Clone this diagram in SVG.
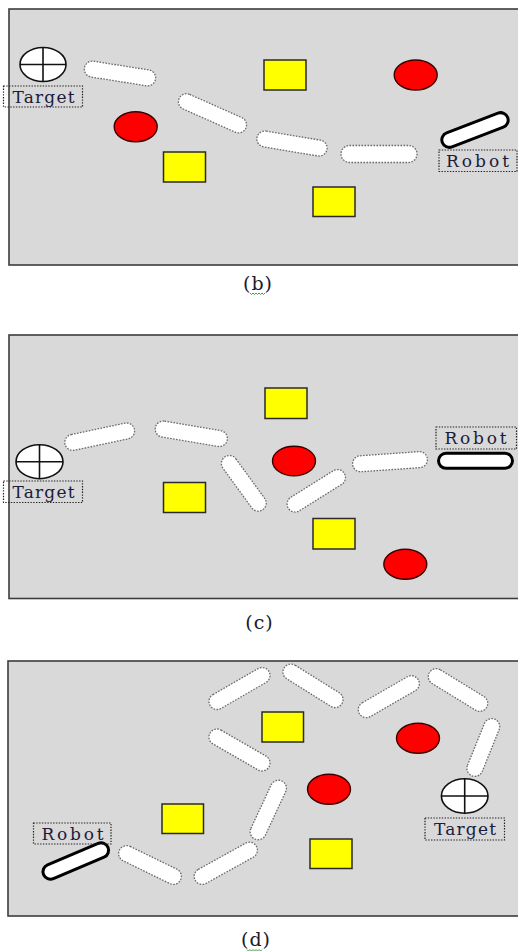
<svg xmlns="http://www.w3.org/2000/svg" width="518" height="952" viewBox="0 0 518 952">
  <style>
    .frame { fill: #d9d9d9; stroke: #3c3c3c; stroke-width: 1.6; }
    .wall { fill: #ffffff; stroke: #6a6a6a; stroke-width: 1.3; stroke-dasharray: 1.6 1.4; }
    .robot { fill: #ffffff; stroke: #000000; stroke-width: 3; }
    .block { fill: #ffff00; stroke: #2a2a2a; stroke-width: 1.5; }
    .ball { fill: #ff0000; stroke: #3a0000; stroke-width: 1.4; }
    .goal { fill: #ffffff; stroke: #111111; stroke-width: 1.6; }
    .cross { stroke: #111111; stroke-width: 1.6; }
    .tag { fill: none; stroke: #222222; stroke-width: 1.2; stroke-dasharray: 1.4 1.4; }
    .label { font-family: "DejaVu Serif", "Liberation Serif", serif; font-size: 17px; fill: #1c1c3c; }
    .caption { font-family: "DejaVu Serif", "Liberation Serif", serif; font-size: 19px; fill: #1a1a2a; text-anchor: middle; letter-spacing: 1px; }
    .squiggle { fill: none; stroke: #3aa63a; stroke-width: 1; }
  </style>

  <!-- ===== Scene (b) ===== -->
  <g id="scene-b">
    <rect class="frame" x="9" y="9" width="515" height="256"/>
    <g id="b-target">
      <ellipse class="goal" cx="43" cy="64.5" rx="23" ry="17"/>
      <line class="cross" x1="43" y1="47.5" x2="43" y2="81.5"/>
      <line class="cross" x1="20" y1="64.5" x2="66" y2="64.5"/>
      <rect class="tag" x="3.5" y="86" width="79" height="21"/>
      <text class="label" x="12.5" y="102.5" textLength="62" lengthAdjust="spacing">Target</text>
    </g>
    <g id="b-wall-1"><rect class="wall" x="-36" y="-8" width="72" height="16" rx="8" transform="translate(120 73.5) rotate(9)"/></g>
    <g id="b-wall-2"><rect class="wall" x="-36.5" y="-8" width="73" height="16" rx="8" transform="translate(212.5 113.3) rotate(24)"/></g>
    <g id="b-wall-3"><rect class="wall" x="-35.5" y="-8" width="71" height="16" rx="8" transform="translate(292 143.5) rotate(9.5)"/></g>
    <g id="b-wall-4"><rect class="wall" x="-38" y="-8.5" width="76" height="17" rx="8.5" transform="translate(379 154)"/></g>
    <g id="b-ball-1"><ellipse class="ball" cx="135.7" cy="126.7" rx="21.5" ry="15"/></g>
    <g id="b-ball-2"><ellipse class="ball" cx="415.7" cy="75" rx="21.5" ry="15"/></g>
    <g id="b-block-1"><rect class="block" x="163.5" y="152" width="42" height="30"/></g>
    <g id="b-block-2"><rect class="block" x="264" y="60" width="42" height="30"/></g>
    <g id="b-block-3"><rect class="block" x="313" y="187" width="42" height="29.5"/></g>
    <g id="b-robot">
      <rect class="robot" x="-35" y="-7.5" width="70" height="15" rx="7.5" transform="translate(475 130) rotate(-21)"/>
      <rect class="tag" x="439" y="150" width="78" height="21.5"/>
      <text class="label" x="446" y="166.5" textLength="63" lengthAdjust="spacing">Robot</text>
    </g>
    <text class="caption" x="258" y="289.5">(b)</text>
    <path class="squiggle" d="M250 293 l1.5 1.5 l1.5 -1.5 l1.5 1.5 l1.5 -1.5 l1.5 1.5 l1.5 -1.5 l1.5 1.5 l1.5 -1.5 l1.5 1.5 l1.5 -1.5"/>
  </g>

  <!-- ===== Scene (c) ===== -->
  <g id="scene-c">
    <rect class="frame" x="9" y="335" width="515" height="263.5"/>
    <g id="c-target">
      <ellipse class="goal" cx="39.5" cy="461.7" rx="23.5" ry="17"/>
      <line class="cross" x1="39.5" y1="444.7" x2="39.5" y2="478.7"/>
      <line class="cross" x1="16" y1="461.7" x2="63" y2="461.7"/>
      <rect class="tag" x="3.5" y="481" width="79" height="21.5"/>
      <text class="label" x="12.5" y="497.8" textLength="62" lengthAdjust="spacing">Target</text>
    </g>
    <g id="c-wall-1"><rect class="wall" x="-35.5" y="-8" width="71" height="16" rx="8" transform="translate(99.7 436.7) rotate(-12)"/></g>
    <g id="c-wall-2"><rect class="wall" x="-36.5" y="-8" width="73" height="16" rx="8" transform="translate(191.3 433.8) rotate(9.5)"/></g>
    <g id="c-wall-3"><rect class="wall" x="-32.5" y="-8" width="65" height="16" rx="8" transform="translate(243.8 483.3) rotate(54)"/></g>
    <g id="c-wall-4"><rect class="wall" x="-33" y="-8" width="66" height="16" rx="8" transform="translate(316.3 490.8) rotate(-32)"/></g>
    <g id="c-wall-5"><rect class="wall" x="-37.5" y="-8" width="75" height="16" rx="8" transform="translate(390 461.7) rotate(-4)"/></g>
    <g id="c-ball-1"><ellipse class="ball" cx="294" cy="461" rx="21.5" ry="14.8"/></g>
    <g id="c-ball-2"><ellipse class="ball" cx="405.3" cy="564.3" rx="21.5" ry="15"/></g>
    <g id="c-block-1"><rect class="block" x="163.5" y="482.5" width="42" height="30"/></g>
    <g id="c-block-2"><rect class="block" x="265" y="388" width="42" height="30.5"/></g>
    <g id="c-block-3"><rect class="block" x="313" y="518.5" width="42" height="30.5"/></g>
    <g id="c-robot">
      <rect class="robot" x="-37" y="-7.5" width="74" height="15" rx="7.5" transform="translate(475.5 460.8)"/>
      <rect class="tag" x="436" y="427" width="80.5" height="22"/>
      <text class="label" x="444.5" y="444.3" textLength="62" lengthAdjust="spacing">Robot</text>
    </g>
    <text class="caption" x="259.5" y="628.5">(c)</text>
  </g>

  <!-- ===== Scene (d) ===== -->
  <g id="scene-d">
    <rect class="frame" x="8" y="661" width="516" height="255"/>
    <g id="d-wall-1"><rect class="wall" x="-34" y="-8" width="68" height="16" rx="8" transform="translate(239.5 688.5) rotate(-30)"/></g>
    <g id="d-wall-2"><rect class="wall" x="-34" y="-8" width="68" height="16" rx="8" transform="translate(239.5 750) rotate(30)"/></g>
    <g id="d-wall-3"><rect class="wall" x="-34" y="-8" width="68" height="16" rx="8" transform="translate(150 865) rotate(26)"/></g>
    <g id="d-wall-4"><rect class="wall" x="-35" y="-8" width="70" height="16" rx="8" transform="translate(225.8 863.3) rotate(-29)"/></g>
    <g id="d-wall-5"><rect class="wall" x="-32" y="-8" width="64" height="16" rx="8" transform="translate(268.3 810) rotate(-65)"/></g>
    <g id="d-wall-6"><rect class="wall" x="-34" y="-8" width="68" height="16" rx="8" transform="translate(313 685.8) rotate(32)"/></g>
    <g id="d-wall-7"><rect class="wall" x="-34" y="-8" width="68" height="16" rx="8" transform="translate(388.8 696.7) rotate(-30)"/></g>
    <g id="d-wall-8"><rect class="wall" x="-33.5" y="-8" width="67" height="16" rx="8" transform="translate(458 690) rotate(31.5)"/></g>
    <g id="d-wall-9"><rect class="wall" x="-30.5" y="-8" width="61" height="16" rx="8" transform="translate(483.3 747.5) rotate(-68)"/></g>
    <g id="d-ball-1"><ellipse class="ball" cx="418" cy="738.3" rx="21.5" ry="15"/></g>
    <g id="d-ball-2"><ellipse class="ball" cx="329" cy="789.3" rx="21.5" ry="15"/></g>
    <g id="d-block-1"><rect class="block" x="162" y="804" width="41.5" height="29.5"/></g>
    <g id="d-block-2"><rect class="block" x="262" y="712" width="41.5" height="30"/></g>
    <g id="d-block-3"><rect class="block" x="310" y="839" width="42" height="29.5"/></g>
    <g id="d-target">
      <ellipse class="goal" cx="464.7" cy="796" rx="23.3" ry="17.2"/>
      <line class="cross" x1="464.7" y1="778.8" x2="464.7" y2="813.2"/>
      <line class="cross" x1="441.4" y1="796" x2="488" y2="796"/>
      <rect class="tag" x="425" y="818" width="79.5" height="22"/>
      <text class="label" x="434" y="835" textLength="62" lengthAdjust="spacing">Target</text>
    </g>
    <g id="d-robot">
      <rect class="robot" x="-35" y="-7.5" width="70" height="15" rx="7.5" transform="translate(75.8 861) rotate(-23)"/>
      <rect class="tag" x="33.5" y="823" width="77.5" height="21"/>
      <text class="label" x="41.5" y="840" textLength="62" lengthAdjust="spacing">Robot</text>
    </g>
    <text class="caption" x="256" y="946">(d)</text>
    <path class="squiggle" d="M247 949.5 l1.5 1.5 l1.5 -1.5 l1.5 1.5 l1.5 -1.5 l1.5 1.5 l1.5 -1.5 l1.5 1.5 l1.5 -1.5 l1.5 1.5 l1.5 -1.5"/>
  </g>
</svg>
